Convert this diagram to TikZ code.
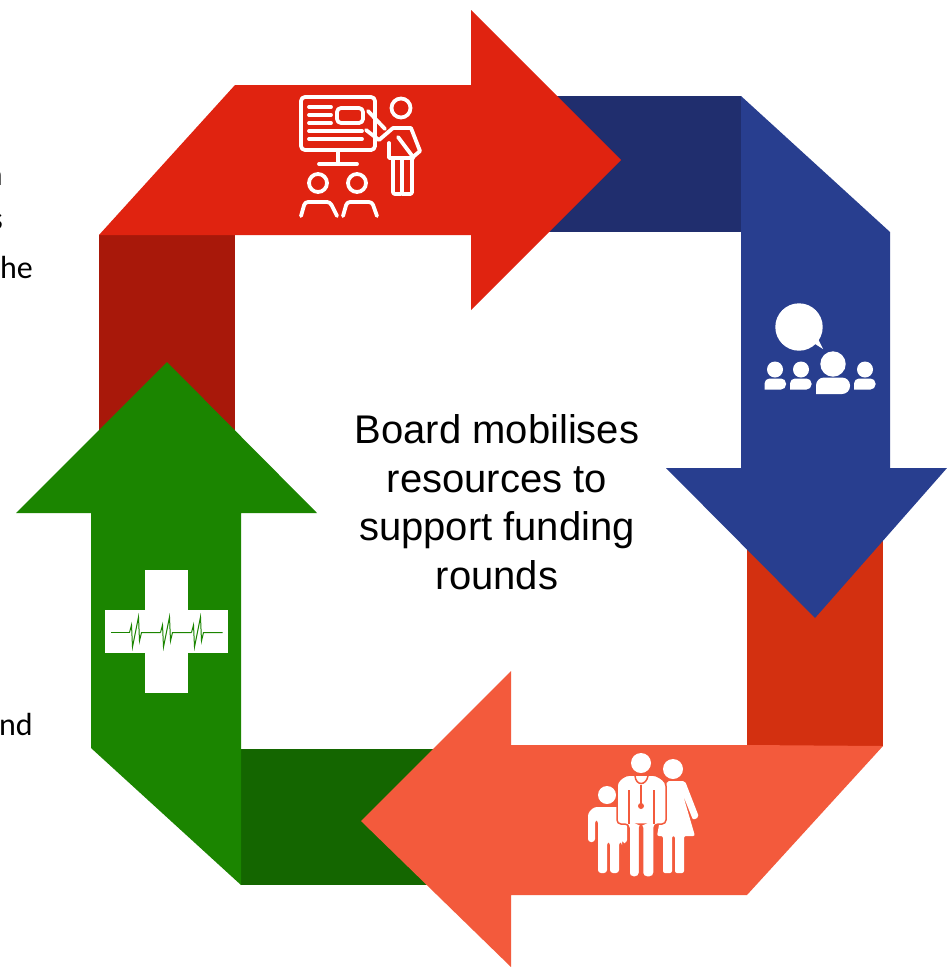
\documentclass[tikz,border=0pt]{standalone}
\usepackage{fontspec}
\setmainfont{Liberation Sans}
\newfontfamily\sidefont{Carlito}

\definecolor{redarrow}{RGB}{224,35,16}
\definecolor{redtail}{RGB}{168,24,10}
\definecolor{bluearrow}{RGB}{40,62,143}
\definecolor{bluetail}{RGB}{32,46,110}
\definecolor{coralarrow}{RGB}{243,90,60}
\definecolor{coraltail}{RGB}{211,48,16}
\definecolor{greenarrow}{RGB}{27,133,0}
\definecolor{greentail}{RGB}{20,102,0}

\begin{document}
\begin{tikzpicture}[x=1pt,y=-1pt]
    \tikzstyle{sidetext}=[anchor=east,inner sep=0pt,font=\sidefont\fontsize{32}{38}\selectfont]
    \tikzstyle{centertext}=[align=center,inner sep=0pt,font=\fontsize{40}{48.5}\selectfont]
    \tikzstyle{iconline}=[draw=white,line width=3.8pt,line cap=round,line join=round]
    \tikzstyle{iconfill}=[fill=white]

    \useasboundingbox (0,0) rectangle (947,967);
    \clip (0,0) rectangle (947,967);
    \fill[white] (0,0) rectangle (947,967);

    \fill[redtail] (99,235) rectangle (235,440);
    \fill[bluetail] (540,96) rectangle (741,232);
    \fill[coraltail] (747,540) rectangle (883,746);
    \fill[greentail] (241,749) rectangle (440,885);

    \fill[redarrow] (99,235) -- (235,85) -- (471,85) -- (471,10) -- (621,160) -- (471,310) -- (471,235) -- cycle;
    \fill[bluearrow] (741,96) -- (890,232) -- (890,468) -- (947,468) -- (815,618) -- (666,468) -- (741,468) -- cycle;
    \fill[coralarrow] (883,746) -- (747,895) -- (511,895) -- (511,967) -- (361,821) -- (511,671) -- (511,745) -- (747,745) -- cycle;
    \fill[greenarrow] (91,748) -- (241,885) -- (241,513) -- (317,513) -- (167,362) -- (16,513) -- (91,513) -- cycle;

    \node[centertext] (board) at (497,502) {Board mobilises\\resources to\\support funding\\rounds};

    \node[sidetext] (side-1) at (3,178) {n};
    \node[sidetext] (side-2) at (3,222) {s};
    \node[sidetext] (side-3) at (33,267) {he};
    \node[sidetext] (side-4) at (33,724) {nd};

    % presenter
    \draw[iconline,rounded corners=4pt] (301,97) rectangle (375,150);
    \draw[iconline,rounded corners=4pt] (337,108) rectangle (363,123);
    \foreach \y in {107,115,123}
        \draw[iconline] (309,\y) -- (331,\y);
    \foreach \y in {131,139}
        \draw[iconline] (309,\y) -- (362,\y);
    \draw[iconline] (338,150) -- (338,164) (319,164) -- (357,164);
    \foreach \x in {318,357}
        \draw[iconline] (\x,183) circle (9);
    \draw[iconline,rounded corners=3pt] (301,216) -- (305,202) -- (330,202) -- (337,216);
    \draw[iconline,rounded corners=3pt] (343,216) -- (347,202) -- (372,202) -- (377,216);
    \draw[iconline] (401,108) circle (9.5);
    \draw[iconline] (368,111) -- (385,129);
    \draw[iconline] (366,130) -- (379,140) -- (393,128) -- (411,128) -- (420,151) -- (413,157) -- (398,137);
    \draw[iconline] (389,143) -- (389,158) -- (413,158);
    \draw[iconline,rounded corners=2pt] (393,160) -- (393,194) -- (402,194) -- (402,160);
    \draw[iconline,rounded corners=2pt] (402,194) -- (412,194) -- (412,158);

    % audience
    \fill[iconfill] (799,327) circle (23.7);
    \fill[iconfill] (812,342) -- (823,349) -- (816,335) -- cycle;
    \foreach \x in {775,801,865}
        \fill[iconfill] (\x,369.5) circle (8);
    \fill[iconfill] (833,364) circle (12.7);
    \foreach \x in {764.5,790,854}
        \fill[iconfill,rounded corners=5pt] (\x,389.5) -- (\x,378.5) -- (\x+21.5,378.5) -- (\x+21.5,389.5) [sharp corners] -- cycle;
    \fill[iconfill,rounded corners=8pt] (816,394) -- (816,377.5) -- (850,377.5) -- (850,394) [sharp corners] -- cycle;

    % family
    \fill[iconfill] (607,795) circle (9);
    \fill[iconfill,rounded corners=3pt] (588,842) -- (588,813) -- (594,807) -- (620,807) -- (627,815) -- (627,843) -- (622,843) -- (622,842) -- (619,842) -- (619,873) -- (610,873) -- (610,842) -- (607,842) -- (607,873) -- (598,873) -- (598,820) -- (595,820) -- (595,842) -- cycle;
    \fill[iconfill] (673,769) circle (10);
    \fill[iconfill,rounded corners=2pt] (667,781) -- (685,781) -- (699,817) -- (693,820) -- (683,795) -- (695,836) -- (684,836) -- (684,873) -- (675,873) -- (675,836) -- (672,836) -- (672,873) -- (663,873) -- (663,836) -- (657,836) -- cycle;
    \fill[iconfill] (641,763) circle (10);
    \draw[iconfill,draw=coralarrow,line width=1.5pt,rounded corners=4pt] (617,824) -- (617,782) -- (626,775) -- (656,775) -- (666,782) -- (666,824) -- (654,824) -- (654,877) -- (642.5,877) -- (642.5,824) -- (639.5,824) -- (639.5,877) -- (629,877) -- (629,824) -- cycle;
    \draw[coralarrow,line width=1.5pt] (629,790) -- (629,824) (654,790) -- (654,824);
    \draw[coralarrow,line width=1.5pt] (635,776) .. controls (636,786) and (646,786) .. (648,776);
    \draw[coralarrow,line width=1.5pt] (641,785) -- (641,805);
    \fill[coralarrow] (641,806) circle (3);

    % cross
    \fill[iconfill] (145,570) rectangle (188,693);
    \fill[iconfill] (105,610) rectangle (228,653);
    \draw[greenarrow,line width=1pt] (111,632.5) -- (129.5,632.5);
    \foreach \x in {0,31,62}
        \draw[greenarrow,line width=1pt,shift={(\x,0)}] (129.5,632.5) -- (131.5,625) -- (132.5,647) -- (138.5,617) -- (139.5,641) -- (141.5,632.5) -- (160.5,632.5);
    \draw[greenarrow,line width=1pt] (203.5,632.5) -- (222,632.5);
\end{tikzpicture}
\end{document}
